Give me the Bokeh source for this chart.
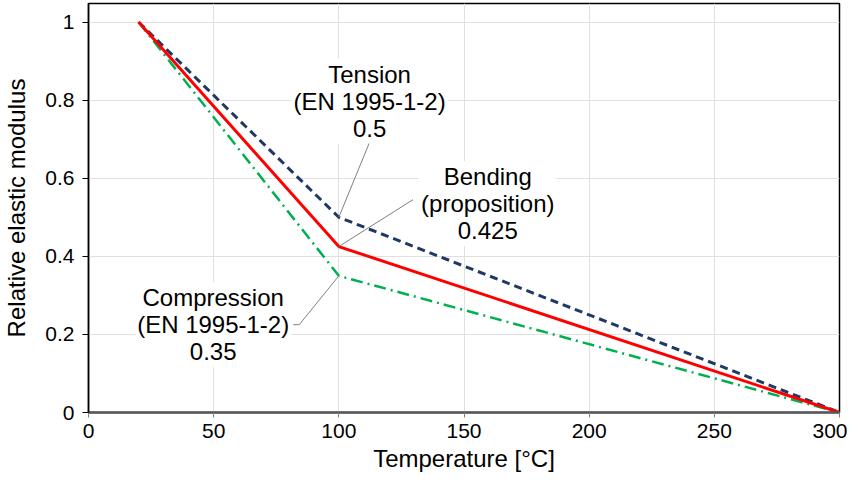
from bokeh.plotting import figure
from bokeh.models import Label, Range1d, FixedTicker
from bokeh.embed import file_html
from bokeh.resources import INLINE

# Data
temperature = [20, 100, 300]
tension = [1.0, 0.5, 0.0]
bending = [1.0, 0.425, 0.0]
compression = [1.0, 0.35, 0.0]

x_ticks = [0, 50, 100, 150, 200, 250, 300]
y_ticks = [0, 0.2, 0.4, 0.6, 0.8, 1.0]

FONT = "Liberation Sans"

p = figure(width=847, height=474, output_backend="svg", toolbar_location=None,
           x_range=Range1d(0, 300), y_range=Range1d(0, 1.0475),
           min_border_left=87, min_border_right=8, min_border_top=3, min_border_bottom=62)
p.outline_line_color = "black"
p.outline_line_width = 1.5
p.background_fill_color = "white"
p.border_fill_color = "white"

p.xaxis.ticker = FixedTicker(ticks=x_ticks)
p.yaxis.ticker = FixedTicker(ticks=y_ticks)
p.yaxis.major_label_overrides = {0: "0", 0.2: "0.2", 0.4: "0.4", 0.6: "0.6", 0.8: "0.8", 1.0: "1"}
p.xaxis.axis_label = "Temperature [°C]"
p.yaxis.axis_label = "Relative elastic modulus"
for ax in (p.xaxis, p.yaxis):
    ax.axis_label_text_font = FONT
    ax.axis_label_text_font_size = "24px"
    ax.axis_label_text_font_style = "normal"
    ax.axis_label_text_color = "black"
    ax.major_label_text_font = FONT
    ax.major_label_text_font_size = "21px"
    ax.major_label_text_color = "black"
    ax.minor_tick_line_color = None
    ax.axis_line_color = "black"
    ax.major_tick_line_color = "black"
    ax.major_tick_in = 0
    ax.major_tick_out = 6
p.xaxis.axis_line_color = "#595959"
p.xaxis.axis_line_width = 2.5
p.xaxis.major_tick_line_color = "#808080"
p.xaxis.major_tick_out = 5
p.xaxis.major_label_standoff = 6
p.xaxis.axis_label_standoff = 4
p.yaxis.axis_line_width = 1.5
p.yaxis.major_label_standoff = 8
p.yaxis.axis_label_standoff = 12

p.xgrid.grid_line_color = "#e0e0e0"
p.ygrid.grid_line_color = "#e0e0e0"

p.line(temperature, tension, line_color="#1f3864", line_width=3, line_dash="8 5")
p.line(temperature, compression, line_color="#00b050", line_width=2.5, line_dash="12 5 2 5")
p.line(temperature, bending, line_color="#ff0000", line_width=3)

# Leader lines (from data point to label)
leader_color = "#808080"
p.line([100, 112.3], [tension[1], 0.6925], line_color=leader_color, line_width=1)
p.line([100, 129.6], [bending[1], 0.545], line_color=leader_color, line_width=1)
p.line([100, 84.2, 81.8], [compression[1], 0.225, 0.225], line_color=leader_color, line_width=1)

def add_label(x, y, text):
    lab = Label(x=x, y=y, text=text, text_align="center", text_baseline="middle",
                text_font=FONT, text_font_size="24px", text_color="black",
                background_fill_color="white", text_line_height=1.0,
                padding=2)
    p.add_layout(lab)

add_label(112.3, 0.7975, "Tension\n(EN 1995-1-2)\n0.5")
add_label(159.5, 0.535, "Bending\n(proposition)\n0.425")
add_label(49.8, 0.225, "Compression\n(EN 1995-1-2)\n0.35")

open("out.html", "w").write(file_html(p, INLINE))
